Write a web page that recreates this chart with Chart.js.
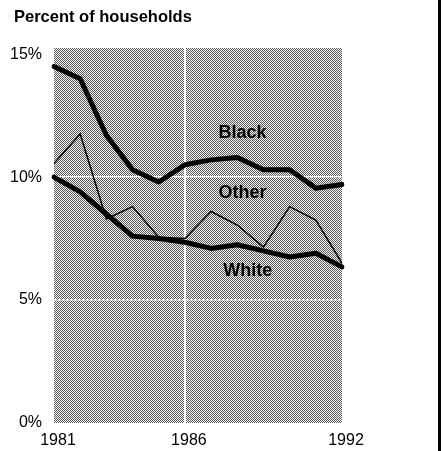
<!DOCTYPE html>
<html>
<head>
<meta charset="utf-8">
<script src="https://cdn.jsdelivr.net/npm/chart.js@4/dist/chart.umd.min.js"></script>
<style>
  html, body { margin: 0; padding: 0; background: #fff; }
  #wrap { width: 443px; height: 451px; position: relative; }
</style>
</head>
<body>
<div id="wrap"><canvas id="chart" width="443" height="451"></canvas></div>
<script>
// data (percent of households)
const years = ['1981', '1982', '1983', '1984', '1985', '1986', '1987', '1988', '1989', '1990', '1991', '1992'];
const shownYears = ['1981', '1986', '1992'];
const black = [14.5, 14.0, 11.7, 10.3, 9.8, 10.5, 10.7, 10.8, 10.3, 10.3, 9.55, 9.7];
const other = [10.55, 11.75, 8.3, 8.8, 7.55, 7.5, 8.6, 8.05, 7.15, 8.8, 8.25, 6.5];
const white = [10.0, 9.4, 8.5, 7.6, 7.5, 7.35, 7.1, 7.25, 7.0, 6.75, 6.9, 6.35];
const yTicks = [0, 5, 10, 15];

const FONT = "'Liberation Sans', Arial, sans-serif";

// halftone-ish background for the plot area
function makePattern(ctx) {
    const c = document.createElement('canvas');
    c.width = 2; c.height = 2;
    const p = c.getContext('2d');
    p.fillStyle = '#f2f2f2';
    p.fillRect(0, 0, 2, 2);
    p.fillStyle = '#5e5e5e';
    p.fillRect(0, 0, 1, 1);
    p.fillRect(1, 1, 1, 1);
    return ctx.createPattern(c, 'repeat');
}

const backdrop = {
    id: 'backdrop',
    beforeDraw(chart) {
        const { ctx, chartArea: a } = chart;
        ctx.save();
        ctx.fillStyle = makePattern(ctx);
        ctx.fillRect(a.left, a.top, a.right - a.left, a.bottom - a.top);
        ctx.restore();
    }
};

const annotations = {
    id: 'annotations',
    afterDraw(chart) {
        const { ctx } = chart;
        const xs = chart.scales.x, ys = chart.scales.y;
        ctx.save();
        // title
        ctx.fillStyle = '#000';
        ctx.font = 'bold 16.5px ' + FONT;
        ctx.textAlign = 'left';
        ctx.textBaseline = 'middle';
        ctx.fillText('Percent of households', 14, 17);
        // series labels
        ctx.textAlign = 'center';
        ctx.font = 'bold 18px ' + FONT;
        ctx.fillText('Black', xs.getPixelForValue(7.2), ys.getPixelForValue(11.8));
        ctx.fillText('Other', xs.getPixelForValue(7.2), ys.getPixelForValue(9.35));
        ctx.fillText('White', xs.getPixelForValue(7.4), ys.getPixelForValue(6.2));
        // right edge rule
        ctx.fillStyle = '#000';
        ctx.fillRect(438, 0, 3, 451);
        ctx.restore();
    }
};

const ctx = document.getElementById('chart').getContext('2d');
const myChart = new Chart(ctx, {
    type: 'line',
    data: {
        labels: years,
        datasets: [
            { label: 'Other', data: other, borderColor: '#000', borderWidth: 1.5, pointRadius: 0, tension: 0 },
            { label: 'White', data: white, borderColor: '#000', borderWidth: 5, pointRadius: 0, tension: 0, borderCapStyle: 'round', borderJoinStyle: 'round' },
            { label: 'Black', data: black, borderColor: '#000', borderWidth: 5, pointRadius: 0, tension: 0, borderCapStyle: 'round', borderJoinStyle: 'round' }
        ]
    },
    options: {
        responsive: false,
        animation: false,
        layout: { padding: { left: 0, right: 101, top: 48, bottom: 0 } },
        plugins: {
            legend: { display: false },
            tooltip: { enabled: false },
            title: { display: false }
        },
        scales: {
            x: {
                type: 'category',
                offset: false,
                afterFit(scale) { scale.height = 28; },
                grid: {
                    drawTicks: false,
                    lineWidth: 2,
                    color: (c) => (c.index === 5 ? '#fff' : 'rgba(0,0,0,0)')
                },
                border: { display: false },
                ticks: {
                    autoSkip: false,
                    maxRotation: 0,
                    padding: 8,
                    labelOffset: 4,
                    color: '#000',
                    font: { family: FONT, size: 16 },
                    callback(value, index) {
                        const lab = years[index];
                        return shownYears.includes(lab) ? lab : '';
                    }
                }
            },
            y: {
                min: 0,
                max: 15.25,
                afterFit(scale) { scale.width = 54; },
                afterBuildTicks(scale) {
                    scale.ticks = yTicks.map(v => ({ value: v }));
                },
                grid: {
                    drawTicks: false,
                    lineWidth: 1.5,
                    color: (c) => ((c.tick && (c.tick.value === 5 || c.tick.value === 10)) ? '#fff' : 'rgba(0,0,0,0)')
                },
                border: { display: false, dash: [3, 1] },
                ticks: {
                    padding: 12,
                    color: '#000',
                    font: { family: FONT, size: 16 },
                    callback(value) { return value + '%'; }
                }
            }
        }
    },
    plugins: [backdrop, annotations]
});
</script>
</body>
</html>
